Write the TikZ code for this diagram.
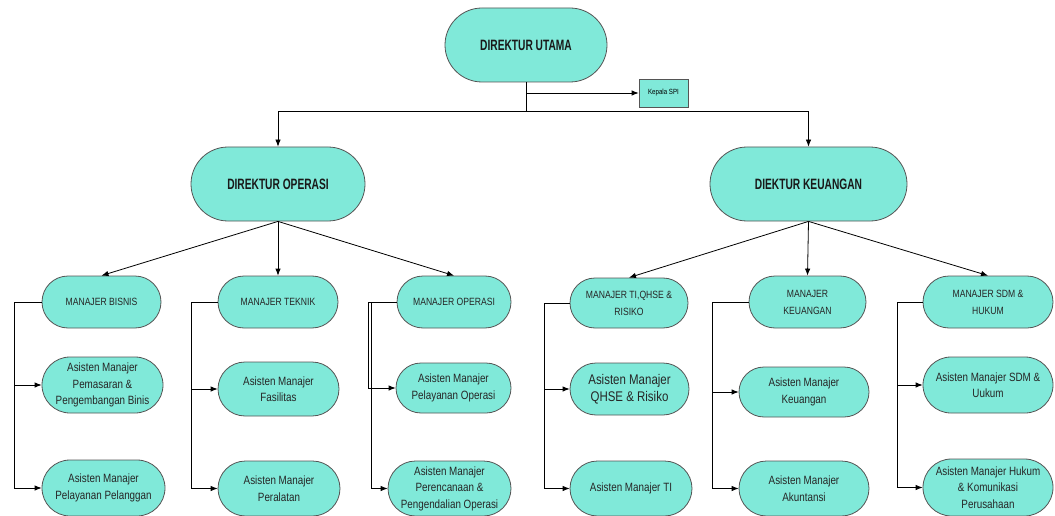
\documentclass[tikz,border=0pt]{standalone}
\usepackage{fontspec}
\setmainfont{Liberation Sans}[FakeStretch=0.82]
\newfontfamily\titlefont{Liberation Sans}[FakeStretch=0.68]
\usetikzlibrary{shapes.misc,arrows.meta}

\definecolor{tosca}{RGB}{128,233,217}
\definecolor{rim}{RGB}{85,85,85}

\begin{document}
\begin{tikzpicture}[
    x=1pt,y=-1pt,
    >={Latex[length=7pt,width=5.5pt]},
    line width=0.8pt,
    pill/.style={rounded rectangle,draw=rim,fill=tosca,inner sep=2pt,align=center,text=black!85},
    chief/.style={pill,minimum height=74pt,font=\titlefont\bfseries\fontsize{15}{18}\selectfont,text=black!90},
    mgr/.style={pill,minimum height=52pt,font=\fontsize{10.5}{17}\selectfont},
    asst/.style={pill,font=\fontsize{12}{16.5}\selectfont},
    spibox/.style={rectangle,draw=rim,fill=tosca,minimum width=49pt,minimum height=28pt,inner sep=1pt,font=\fontsize{7.5}{9}\selectfont}
    ]
    \useasboundingbox (0,0) rectangle (1055,516);

   \node(du) [chief,minimum width=166pt] at (526,45) {DIREKTUR UTAMA};
   \node(spi) [spibox] at (663.5,93) {Kepala SPI};

   \node(do) [chief,minimum width=178pt] at (278,184) {DIREKTUR OPERASI};
   \node(dk) [chief,minimum width=201pt] at (808.5,184) {DIEKTUR KEUANGAN};

   % manajer
   \node(mb) [mgr,minimum width=123pt] at (101.5,302) {MANAJER BISNIS};
   \node(mt) [mgr,minimum width=124pt] at (278,302) {MANAJER TEKNIK};
   \node(mo) [mgr,minimum width=118pt] at (454,302) {MANAJER OPERASI};
   \node(mti) [mgr,minimum width=122pt,minimum height=50pt] at (629,303) {MANAJER TI,QHSE \&\\RISIKO};
   \node(mk) [mgr,minimum width=121pt] at (807.5,302) {MANAJER\\KEUANGAN};
   \node(msdm) [mgr,minimum width=134pt] at (988,302) {MANAJER SDM \&\\HUKUM};

   % asisten manajer
   \node(a11) [asst,minimum width=125pt,minimum height=56pt] at (102.5,385) {Asisten Manajer\\Pemasaran \&\\Pengembangan Binis};
   \node(a12) [asst,minimum width=127pt,minimum height=56pt] at (103.5,488) {Asisten Manajer\\Pelayanan Pelanggan};
   \node(a21) [asst,minimum width=125pt,minimum height=54pt] at (278.5,389) {Asisten Manajer\\Fasilitas};
   \node(a22) [asst,minimum width=126pt,minimum height=55pt] at (279,488.5) {Asisten Manajer\\Peralatan};
   \node(a31) [asst,minimum width=119pt,minimum height=50pt] at (453.5,388) {Asisten Manajer\\Pelayanan Operasi};
   \node(a32) [asst,minimum width=127pt,minimum height=55pt] at (449.5,488.5) {Asisten Manajer\\Perencanaan \&\\Pengendalian Operasi};
   \node(a41) [asst,minimum width=123pt,minimum height=52pt,font=\fontsize{14}{17}\selectfont] at (629.5,389) {Asisten Manajer\\QHSE \& Risiko};
   \node(a42) [asst,minimum width=126pt,minimum height=55pt] at (631,488.5) {Asisten Manajer TI};
   \node(a51) [asst,minimum width=134pt,minimum height=50pt] at (804,392) {Asisten Manajer\\Keuangan};
   \node(a52) [asst,minimum width=134pt,minimum height=55pt] at (804,488.5) {Asisten Manajer\\Akuntansi};
   \node(a61) [asst,minimum width=134pt,minimum height=56pt] at (988,385) {Asisten Manajer SDM \&\\Uukum};
   \node(a62) [asst,minimum width=134pt,minimum height=57pt] at (988,487.5) {Asisten Manajer Hukum\\\& Komunikasi\\Perusahaan};

   % direksi
   \coordinate(bus) at (526,111);
   \draw[->] (du.south) |- (spi.west);
   \draw (du.south) -- (bus);
   \draw[->] (bus) -| (do.north);
   \draw[->] (bus) -| (dk.north);

   \foreach \m in {mb,mt,mo} {
   	\draw[->] (do.south) -- (\m.north);
   }
   \foreach \m in {mti,mk,msdm} {
   	\draw[->] (dk.south) -- (\m.north);
   }

   \foreach \m/\d/\a/\b in {mb/27/a11/a12,mt/26/a21/a22,mti/25/a41/a42,mk/36/a51/a52,msdm/25/a61/a62} {
   	\draw[->] (\m.west) -- ++(-\d,0) |- (\a.west);
   	\draw[->] (\m.west) -- ++(-\d,0) |- (\b.west);
   }
   \draw[->] (mo.west) -- ++(-28,0) |- (a31.west);
   \draw[->] (mo.west) -- ++(-25,0) |- (a32.west);

  \end{tikzpicture}
\end{document}
